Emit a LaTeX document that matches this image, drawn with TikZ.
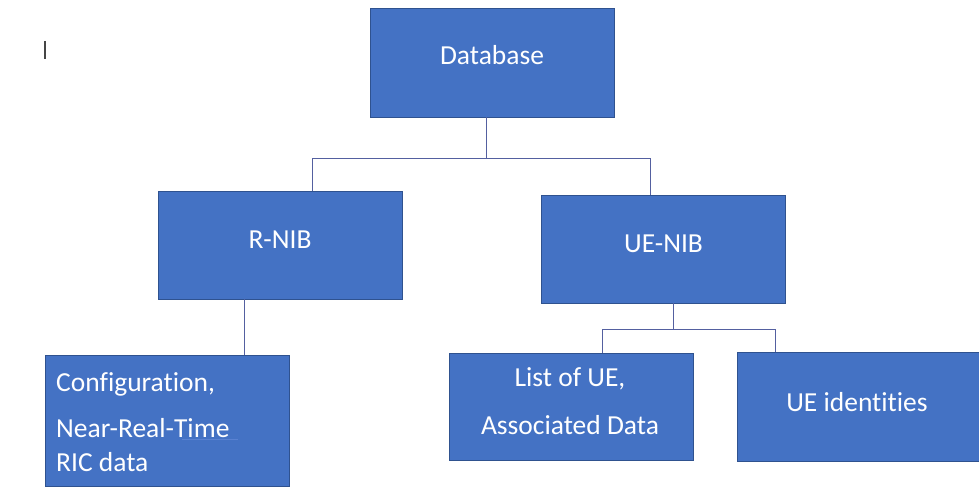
\documentclass[tikz,border=0pt]{standalone}
\usepackage{fontspec}
\setmainfont[Ligatures={NoCommon}]{Carlito}
\definecolor{boxblue}{RGB}{68,114,196}
\definecolor{boxedge}{RGB}{47,82,143}
\definecolor{linkline}{RGB}{84,96,160}
\definecolor{markgray}{RGB}{70,70,70}
\definecolor{spellline}{RGB}{90,130,210}

\begin{document}
\begin{tikzpicture}[x=1pt,y=-1pt,
  box/.style={fill=boxblue, draw=boxedge, line width=0.8pt, inner sep=0pt,
              minimum width=244pt},
  txt/.style={text=white, inner sep=0pt, font=\fontsize{27.5}{33}\selectfont},
  link/.style={draw=linkline, line width=1.0pt}]

% canvas
\fill[white] (0,0) rectangle (979,494);
\path[use as bounding box] (0,0) rectangle (979,494);

% boxes
\node[box, minimum height=109pt] (db)   at (492,62.5) {};
\node[box, minimum height=108pt] (rnib) at (280.5,245) {};
\node[box, minimum height=108pt] (unib) at (663.5,249) {};
\node[box, minimum height=131pt] (cfg)  at (167,420.5) {};
\node[box, minimum height=107pt] (list) at (571,406.5) {};
\node[box, minimum height=109pt] (ueid) at (859,406.5) {};

% labels
\node[txt, anchor=base] (dbt)   at (492,65)  {Database};
\node[txt, anchor=base] (rnibt) at (280,249) {R-NIB};
\node[txt, anchor=base] (unibt) at (663.5,252) {UE-NIB};
\node[txt, anchor=base west] (cfg1) at (56,391) {Configuration,};
\node[txt, anchor=base west] (cfg2) at (56,437) {Near-Real-Time};
\node[txt, anchor=base west] (cfg3) at (56,471) {RIC data};
\node[txt, anchor=base] (list1) at (570,386) {List of UE,};
\node[txt, anchor=base] (list2) at (570,434) {Associated Data};
\node[txt, anchor=base] (ueidt) at (857,411) {UE identities};

% junction points of the tree
\coordinate (busC) at (486,159);
\coordinate (busL) at (312,159);
\coordinate (busR) at (650,159);
\coordinate (rcx)  at (244,320);
\coordinate (ueC)  at (673,329);
\coordinate (ueL)  at (602,329);
\coordinate (ueR)  at (775,329);

% connectors
\draw[link] (db.south -| busC) -- (busC);
\draw[link] (rnib.north -| busL) |- (busR) -- (unib.north -| busR);
\draw[link] (rnib.south -| rcx) -- (cfg.north -| rcx);
\draw[link] (unib.south -| ueC) -- (ueC);
\draw[link] (list.north -| ueL) |- (ueR) -- (ueid.north -| ueR);

% text cursor and underline marks
\draw[markgray, line width=1.4pt] (45,41) -- (45,59);
\draw[spellline, line width=0.8pt] (182,439.5) -- (238,439.5);
\end{tikzpicture}
\end{document}
